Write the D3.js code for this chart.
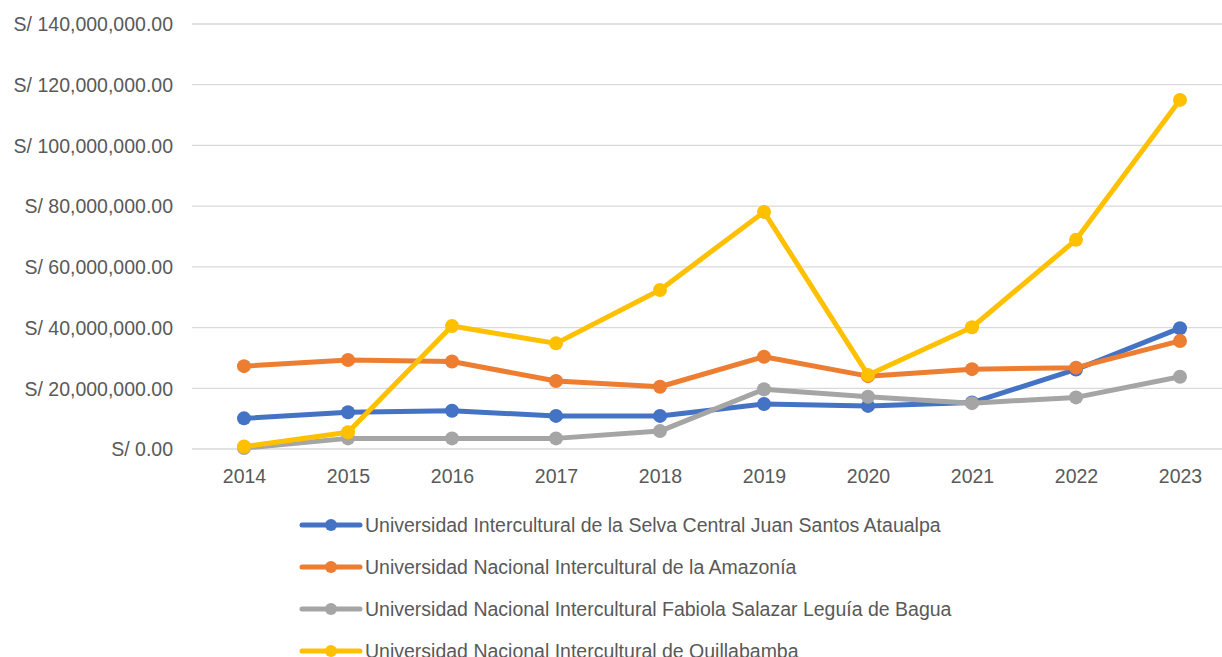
<!DOCTYPE html>
<html lang="es">
<head>
<meta charset="UTF-8" />
<title>Universidades interculturales</title>
<style>
  body { margin: 0; background: #fff; font-family: "Liberation Sans", Arial, sans-serif; }
  svg { display: block; }
  .tick text { fill: #595959; font-size: 19.5px; }
</style>
</head>
<body>
<svg id="chart"></svg>
<script src="https://d3js.org/d3.v7.min.js"></script>
<script>
const years = ["2014","2015","2016","2017","2018","2019","2020","2021","2022","2023"];
const seriesNames = [
  "Universidad Intercultural de la Selva Central Juan Santos Ataualpa",
  "Universidad Nacional Intercultural de la Amazonía",
  "Universidad Nacional Intercultural Fabiola Salazar Leguía de Bagua",
  "Universidad Nacional Intercultural de Quillabamba"
];
const selvaCentral = [10.1e6, 12.1e6, 12.6e6, 10.9e6, 10.9e6, 14.8e6, 14.2e6, 15.3e6, 26.2e6, 39.8e6];
const amazonia     = [27.3e6, 29.3e6, 28.8e6, 22.4e6, 20.5e6, 30.4e6, 24.0e6, 26.3e6, 26.8e6, 35.6e6];
const bagua        = [0.3e6, 3.5e6, 3.5e6, 3.5e6, 5.9e6, 19.7e6, 17.2e6, 15.1e6, 17.0e6, 23.8e6];
const quillabamba  = [0.8e6, 5.5e6, 40.5e6, 34.8e6, 52.4e6, 78.1e6, 24.4e6, 40.1e6, 68.9e6, 115.0e6];
const colors = ["#4472C4", "#ED7D31", "#A5A5A5", "#FFC000"];
const yTicks = [0, 20e6, 40e6, 60e6, 80e6, 100e6, 120e6, 140e6];

const series = [selvaCentral, amazonia, bagua, quillabamba].map((vals, i) => ({
  name: seriesNames[i], color: colors[i], values: vals
}));

const W = 1222, H = 657;
const svg = d3.select("#chart").attr("width", W).attr("height", H);

const x = d3.scalePoint().domain(years).range([244, 1180]);
const y = d3.scaleLinear().domain([0, 140e6]).range([449, 24]);

const fmt = v => "S/ " + d3.format(",.2f")(v);

// grid
svg.append("g")
  .selectAll("line")
  .data(yTicks)
  .join("line")
  .attr("x1", 192).attr("x2", 1222)
  .attr("y1", d => y(d)).attr("y2", d => y(d))
  .attr("stroke", "#d9d9d9").attr("stroke-width", 1.3);

// y axis
const yAxis = svg.append("g")
  .attr("transform", "translate(173,0)")
  .call(d3.axisLeft(y).tickValues(yTicks).tickFormat(fmt).tickSize(0).tickPadding(0));
yAxis.select(".domain").remove();
yAxis.selectAll("text").attr("dy", "0.35em");

// x axis
const xAxis = svg.append("g")
  .attr("transform", "translate(0,449)")
  .call(d3.axisBottom(x).tickSize(0).tickPadding(20));
xAxis.select(".domain").remove();

const line = d3.line().x((d, i) => x(years[i])).y(d => y(d));

const g = svg.append("g");
series.forEach(s => {
  g.append("path")
    .attr("d", line(s.values))
    .attr("fill", "none")
    .attr("stroke", s.color)
    .attr("stroke-width", 5)
    .attr("stroke-linejoin", "round");
  g.selectAll(null)
    .data(s.values)
    .join("circle")
    .attr("cx", (d, i) => x(years[i]))
    .attr("cy", d => y(d))
    .attr("r", 7)
    .attr("fill", s.color);
});

// legend
const legend = svg.append("g");
series.forEach((s, i) => {
  const ly = 525 + i * 42;
  const lg = legend.append("g").attr("transform", `translate(300,${ly})`);
  lg.append("line").attr("x1", 2).attr("x2", 60).attr("y1", 0).attr("y2", 0)
    .attr("stroke", s.color).attr("stroke-width", 5).attr("stroke-linecap", "round");
  lg.append("circle").attr("cx", 31).attr("cy", 0).attr("r", 6).attr("fill", s.color);
  lg.append("text").attr("x", 65).attr("y", 0).attr("dy", "0.35em")
    .attr("fill", "#595959").attr("font-size", 19.5)
    .text(s.name);
});
</script>
</body>
</html>
